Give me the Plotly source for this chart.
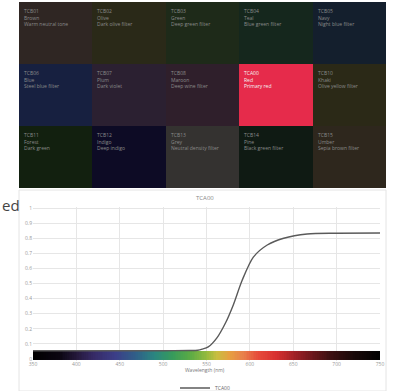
import plotly.graph_objects as go

# ---------------- data ----------------
tile_colors = [
    "#2f2623", "#2a2918", "#1e2a19", "#15271d", "#141f2d",
    "#172040", "#2b2031", "#2f1f2b", "#e62b4b", "#2b2917",
    "#12200f", "#0d0b25", "#343230", "#0f1a13", "#2e271d",
]
tile_codes = ["TCB01", "TCB02", "TCB03", "TCB04", "TCB05",
              "TCB06", "TCB07", "TCB08", "TCA00", "TCB10",
              "TCB11", "TCB12", "TCB13", "TCB14", "TCB15"]
tile_names = ["Brown", "Olive", "Green", "Teal", "Navy",
              "Blue", "Plum", "Maroon", "Red", "Khaki",
              "Forest", "Indigo", "Grey", "Pine", "Umber"]
tile_descs = ["Warm neutral tone", "Dark olive filter", "Deep green filter",
              "Blue green filter", "Night blue filter",
              "Steel blue filter", "Dark violet", "Deep wine filter",
              "Primary red", "Olive yellow filter",
              "Dark green", "Deep indigo", "Neutral density filter",
              "Black green filter", "Sepia brown filter"]
n_cols = 5

wavelengths = [350, 400, 450, 500, 530, 540, 545, 552, 562, 572, 581, 591,
               604, 620, 639, 666, 700, 750]
transmission = [0.055, 0.055, 0.055, 0.055, 0.056, 0.058, 0.065, 0.08, 0.14,
                0.24, 0.36, 0.52, 0.675, 0.755, 0.80, 0.828, 0.833, 0.834]
series_name = "TCA00"
x_title = "Wavelength (nm)"

x_ticks = [350, 400, 450, 500, 550, 600, 650, 700, 750]
y_ticks = [0, 0.1, 0.2, 0.3, 0.4, 0.5, 0.6, 0.7, 0.8, 0.9, 1]
y_tick_labels = ["0", "0.1", "0.2", "0.3", "0.4", "0.5", "0.6", "0.7", "0.8", "0.9", "1"]

spectrum_wl = list(range(350, 752, 2))
spectrum_stops = [
    (350, "#000000"), (380, "#0a0510"), (400, "#24183a"), (420, "#362a66"),
    (445, "#3c3e88"), (470, "#2f6288"), (490, "#2a8680"), (510, "#369a5c"),
    (530, "#58aa46"), (550, "#94ba3e"), (562, "#c8be40"), (576, "#e6a040"),
    (592, "#e8804a"), (610, "#e64a3a"), (630, "#d83030"), (660, "#8a1c22"),
    (690, "#401012"), (720, "#180808"), (750, "#000000"),
]

# ---------------- figure ----------------
W, H = 400, 391
fig = go.Figure()

# colour tiles as heatmap
tx = [i % n_cols for i in range(len(tile_colors))]
ty = [i // n_cols for i in range(len(tile_colors))]
zgrid = [[None] * n_cols for _ in range(3)]
for i in range(len(tile_colors)):
    zgrid[ty[i]][tx[i]] = i
n = len(tile_colors)
cs = [[i / (n - 1), c] for i, c in enumerate(tile_colors)]
fig.add_trace(go.Heatmap(
    z=zgrid, x=list(range(n_cols)), y=list(range(3)),
    colorscale=cs, zmin=0, zmax=n - 1, showscale=False,
    xgap=0, ygap=0, hoverinfo="skip",
    xaxis="x2", yaxis="y2", showlegend=False,
))
for i in range(n):
    col = "#f4f4f4" if tile_codes[i] == series_name else "#8a8a8a"
    fig.add_annotation(
        x=tx[i] - 0.5, y=ty[i] - 0.5, xref="x2", yref="y2",
        xanchor="left", yanchor="top", xshift=3, yshift=-4,
        text=f"{tile_codes[i]}<br>{tile_names[i]}<br>{tile_descs[i]}",
        showarrow=False, align="left",
        font=dict(size=5, color=col, family="Open Sans"),
    )

# chart card background
fig.add_shape(type="rect", xref="paper", yref="paper",
              x0=19 / W, x1=386 / W, y0=0, y1=1 - 190 / H,
              fillcolor="white", line=dict(color="#e4e4e4", width=1), layer="below")

# spectrum bar
lo, hi = spectrum_stops[0][0], spectrum_stops[-1][0]
spec_cs = [[(w - lo) / (hi - lo), c] for w, c in spectrum_stops]
edges = [spectrum_wl[0] - 1] + [w + 1 for w in spectrum_wl]
fig.add_trace(go.Heatmap(
    z=[spectrum_wl], x=edges, y=[-0.004, 0.053],
    colorscale=spec_cs, zmin=lo, zmax=hi, showscale=False,
    hoverinfo="skip", showlegend=False, xaxis="x", yaxis="y",
))

fig.add_trace(go.Scatter(
    x=wavelengths, y=transmission, mode="lines", name=series_name,
    line=dict(color="#5a5a5a", width=1.4, shape="spline", smoothing=0.8),
    xaxis="x", yaxis="y", showlegend=True,
))

fig.update_layout(
    width=W, height=H,
    margin=dict(l=0, r=0, t=0, b=0, autoexpand=False),
    paper_bgcolor="white", plot_bgcolor="white",
    font=dict(family="Open Sans", size=5, color="#888888"),
    xaxis=dict(domain=[33 / W, 380 / W], range=[350, 750], tickvals=x_ticks,
               showgrid=True, gridcolor="#e6e6e6", gridwidth=1, zeroline=False,
               showline=False, ticks="", tickfont=dict(size=5, color="#999999"),
               ticklabelstandoff=-1, anchor="y"),
    yaxis=dict(domain=[1 - 360.5 / H, 1 - 206.5 / H], range=[-0.01, 1.01],
               tickvals=y_ticks, ticktext=y_tick_labels,
               showgrid=True, gridcolor="#e6e6e6", gridwidth=1, zeroline=False,
               showline=False, ticks="", tickfont=dict(size=5, color="#999999"),
               anchor="x"),
    xaxis2=dict(domain=[19 / W, 386 / W], range=[-0.5, 4.5], visible=False, anchor="y2",
                fixedrange=True),
    yaxis2=dict(domain=[1 - 188 / H, 1 - 2 / H], range=[2.5, -0.5], visible=False, anchor="x2",
                fixedrange=True),
    legend=dict(orientation="h", x=0.5125, xanchor="center", y=1 - 388 / H, yanchor="middle",
                font=dict(size=5, color="#666666"), itemwidth=30,
                bgcolor="rgba(0,0,0,0)"),
    showlegend=True,
)

fig.add_annotation(x=0.5125, y=1 - 375 / H, xref="paper", yref="paper",
                   text=x_title, showarrow=False,
                   font=dict(size=5, color="#777777"))
fig.add_annotation(x=0.5125, y=1 - 198 / H, xref="paper", yref="paper",
                   text=series_name, showarrow=False,
                   font=dict(size=6, color="#888888"))
fig.add_annotation(x=0, y=1 - 205 / H, xref="paper", yref="paper",
                   xanchor="left", text="ed", showarrow=False,
                   font=dict(size=15, color="#444444", family="Open Sans"))

fig.write_html("out.html", config={"displayModeBar": False},
               post_script="document.body.style.margin='0';document.body.style.overflow='hidden';")
